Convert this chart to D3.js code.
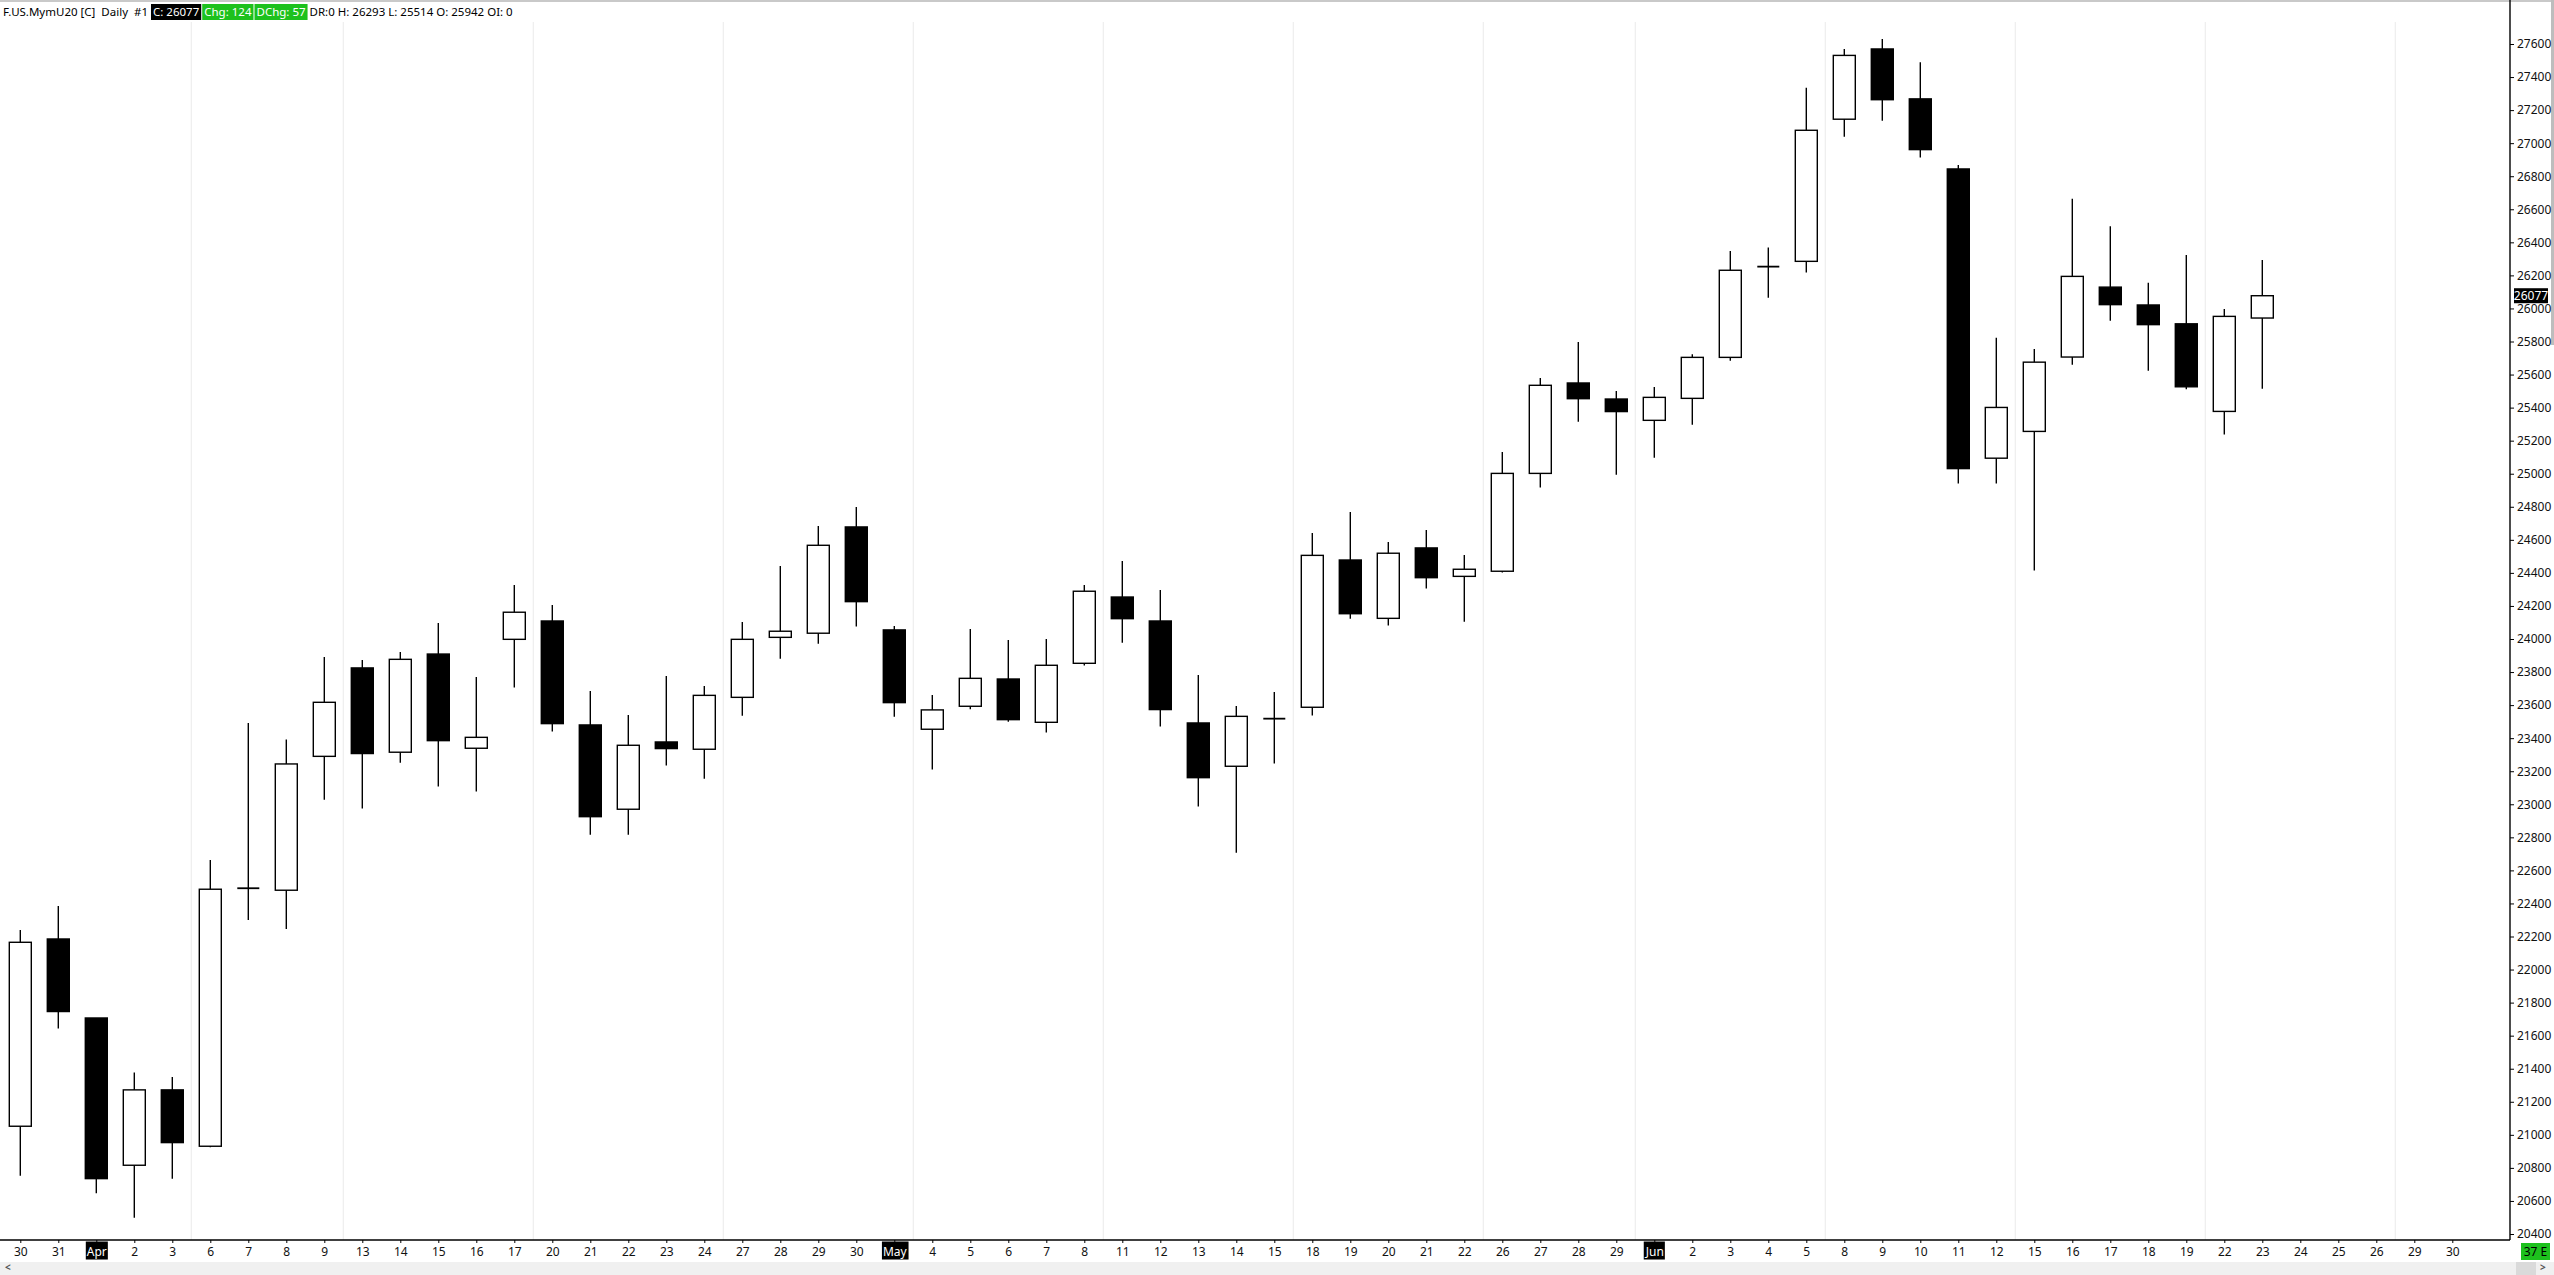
<!DOCTYPE html>
<html>
<head>
<meta charset="utf-8">
<script src="https://cdn.jsdelivr.net/npm/d3@7"></script>
<style>
  html, body { margin: 0; padding: 0; background: #fff; overflow: hidden; }
  svg { display: block; font-family: "Noto Sans", "DejaVu Sans", sans-serif; }
</style>
</head>
<body>
<div id="chart"></div>
<script>
// Axis labels (one per trading day, month starts shown as month name)
const dayLabels = ['30','31','Apr','2','3','6','7','8','9','13','14','15','16','17','20','21','22','23','24',
  '27','28','29','30','May','4','5','6','7','8','11','12','13','14','15','18','19','20','21','22','26','27',
  '28','29','Jun','2','3','4','5','8','9','10','11','12','15','16','17','18','19','22','23','24','25','26','29','30'];
const monthLabels = ['Apr', 'May', 'Jun'];
// index of the first trading day of each week (gridline drawn before it)
const weekStarts = [5, 9, 14, 19, 24, 29, 34, 39, 43, 48, 53, 58, 63];

// Daily OHLC
const opens = [21052,22185,21707,20816,21272,20931,22492,22480,23290,23825,23315,23909,23339,23998,24109,
  23480,22970,23377,23333,23647,24010,24035,24678,24055,23454,23593,23758,23496,23853,24254,24109,23492,
  23230,23518,23587,24478,24125,24551,24379,24410,25002,25549,25452,25323,25456,25704,26253,26285,27145,
  27570,27268,26844,25094,25256,25706,26129,26021,25907,25377,25942];
const highs = [22240,22385,21707,21377,21350,22663,23492,23392,23891,23873,23922,24097,23770,24327,24206,
  23686,23540,23776,23716,24103,24442,24684,24799,24079,23661,24061,23994,24000,24327,24472,24297,23782,
  23595,23680,24641,24769,24587,24660,24508,25132,25579,25797,25501,25525,25723,26348,26368,27335,27570,
  27631,27490,26868,25822,25755,26663,26498,26155,26323,25997,26293];
const lows = [20753,21643,20647,20499,20735,20925,22300,22246,23028,22974,23252,23107,23077,23706,23440,
  22816,22816,23234,23155,23536,23881,23972,24075,23530,23210,23575,23500,23434,23839,23978,23470,22986,
  22707,23246,23537,24123,24081,24305,24105,24402,24916,25315,24994,25097,25297,25684,26065,26217,27039,
  27136,26913,24941,24941,24414,25660,25926,25623,25511,25237,25514];
const closes = [22165,21746,20735,21272,20953,22486,22492,23244,23617,23307,23877,23385,23405,24162,23488,
  22925,23357,23337,23659,23998,24047,24567,24226,23615,23571,23762,23512,23841,24289,24123,23573,23161,
  23532,23518,24506,24153,24519,24371,24422,25002,25535,25454,25376,25462,25704,26231,26253,27078,27531,
  27263,26961,25031,25401,25675,26194,26023,25902,25526,25952,26077];

// Price axis ticks
const priceTicks = d3.range(20400, 27601, 200);
const lastPrice = 26077;

// Header
const headerPlain = 'F.US.MymU20 [C]  Daily  #1';
const headerBoxes = [
  { text: 'C: 26077', fill: '#000', color: '#fff' },
  { text: 'Chg: 124', fill: '#1dc11d', color: '#fff' },
  { text: 'DChg: 57', fill: '#1dc11d', color: '#fff' }
];
const headerTail = 'DR:0 H: 26293 L: 25514 O: 25942 OI: 0';

const W = 2554, H = 1275;
const axisX = 2510, axisY = 1240;

const svg = d3.select('#chart').append('svg')
  .attr('width', W).attr('height', H);

const x = d3.scalePoint()
  .domain(d3.range(dayLabels.length))
  .range([20.3, 20.3 + 38 * (dayLabels.length - 1)]);
const y = d3.scaleLinear().domain([20400, 27600]).range([1234, 44]);
const bodyW = 22;

// top border
svg.append('rect').attr('x', 0).attr('y', 0).attr('width', W).attr('height', 2).attr('fill', '#c9c9c9');
// right scroll strip
svg.append('rect').attr('x', 2551).attr('y', 0).attr('width', 3).attr('height', 345).attr('fill', '#bdbdbd');

// week gridlines
svg.append('g').selectAll('line')
  .data(weekStarts)
  .join('line')
  .attr('x1', d => x(d) - 19).attr('x2', d => x(d) - 19)
  .attr('y1', 22).attr('y2', axisY)
  .attr('stroke', '#eeeeee').attr('stroke-width', 1.2);

// candles
const candles = d3.range(opens.length).map(i => ({
  i, o: opens[i], h: highs[i], l: lows[i], c: closes[i]
}));

const g = svg.append('g');
g.selectAll('line.wick')
  .data(candles)
  .join('line')
  .attr('class', 'wick')
  .attr('x1', d => x(d.i)).attr('x2', d => x(d.i))
  .attr('y1', d => y(d.h)).attr('y2', d => y(d.l))
  .attr('stroke', '#000').attr('stroke-width', 1.4);

g.selectAll('rect.body')
  .data(candles.filter(d => d.o !== d.c))
  .join('rect')
  .attr('class', 'body')
  .attr('x', d => x(d.i) - bodyW / 2)
  .attr('width', bodyW)
  .attr('y', d => y(Math.max(d.o, d.c)))
  .attr('height', d => Math.max(1, Math.abs(y(d.o) - y(d.c))))
  .attr('fill', d => d.c > d.o ? '#fff' : '#000')
  .attr('stroke', '#000').attr('stroke-width', 1.4);

g.selectAll('line.doji')
  .data(candles.filter(d => d.o === d.c))
  .join('line')
  .attr('class', 'doji')
  .attr('x1', d => x(d.i) - bodyW / 2).attr('x2', d => x(d.i) + bodyW / 2)
  .attr('y1', d => y(d.c)).attr('y2', d => y(d.c))
  .attr('stroke', '#000').attr('stroke-width', 1.8);

// price axis
const yAxis = svg.append('g')
  .attr('transform', `translate(${axisX},0)`)
  .call(d3.axisRight(y).tickValues(priceTicks).tickSize(4).tickPadding(3).tickFormat(d3.format('d')));
yAxis.select('.domain').remove();
yAxis.selectAll('text').attr('font-size', 12).attr('fill', '#111')
  .attr('font-family', '"Noto Sans", "DejaVu Sans", sans-serif');
yAxis.selectAll('line').attr('stroke', '#000');
svg.append('line').attr('x1', axisX).attr('x2', axisX).attr('y1', 0).attr('y2', axisY)
  .attr('stroke', '#000').attr('stroke-width', 1.4);

// last price tag
svg.append('rect').attr('x', axisX + 4).attr('y', y(lastPrice) - 7.5)
  .attr('width', 34).attr('height', 15).attr('fill', '#000');
svg.append('text').attr('x', axisX + 21).attr('y', y(lastPrice))
  .attr('dy', '0.36em').attr('text-anchor', 'middle')
  .attr('font-size', 12).attr('fill', '#fff').text(lastPrice);

// date axis
const xAxis = svg.append('g')
  .attr('transform', `translate(0,${axisY})`)
  .call(d3.axisBottom(x).tickSize(3).tickPadding(4).tickFormat(i => dayLabels[i]));
xAxis.select('.domain').remove();
xAxis.selectAll('line').attr('stroke', '#000');
xAxis.selectAll('text').attr('font-size', 12).attr('fill', '#111')
  .attr('font-family', '"Noto Sans", "DejaVu Sans", sans-serif');
xAxis.selectAll('.tick').each(function (i) {
  if (monthLabels.includes(dayLabels[i])) {
    const t = d3.select(this).select('text').attr('fill', '#fff');
    const bb = t.node().getBBox();
    d3.select(this).insert('rect', 'text')
      .attr('x', bb.x - 1).attr('y', bb.y - 1)
      .attr('width', bb.width + 2).attr('height', bb.height + 1)
      .attr('fill', '#000');
  }
});
svg.append('line').attr('x1', 0).attr('x2', axisX).attr('y1', axisY).attr('y2', axisY)
  .attr('stroke', '#000').attr('stroke-width', 1.4);

// bottom scrollbar
svg.append('rect').attr('x', 0).attr('y', 1262).attr('width', W).attr('height', 13).attr('fill', '#f0f0f0');
svg.append('rect').attr('x', 2516).attr('y', 1262).attr('width', 20).attr('height', 13).attr('fill', '#dadada');
svg.append('text').attr('x', 5).attr('y', 1268).attr('dy', '0.32em').attr('font-size', 10)
  .attr('font-weight', 'bold').attr('fill', '#555').text('<');
svg.append('text').attr('x', 2540).attr('y', 1268).attr('dy', '0.32em').attr('font-size', 10)
  .attr('font-weight', 'bold').attr('fill', '#555').text('>');
svg.append('rect').attr('x', 2521).attr('y', 1243).attr('width', 29).attr('height', 17).attr('fill', '#1dc11d');
svg.append('text').attr('x', 2535.5).attr('y', 1251.5).attr('dy', '0.36em').attr('text-anchor', 'middle')
  .attr('font-size', 12).attr('fill', '#000').text('37 E');

// header line
const header = svg.append('g').attr('font-size', 11.5);
let hx = 3;
const hy = 15.5;
const t0 = header.append('text').attr('x', hx).attr('y', hy).attr('fill', '#000')
  .attr('xml:space', 'preserve').style('white-space', 'pre').text(headerPlain);
hx += t0.node().getComputedTextLength() + 3;
headerBoxes.forEach(b => {
  const r = header.append('rect').attr('y', 4).attr('height', 16).attr('fill', b.fill);
  const t = header.append('text').attr('x', hx + 2).attr('y', hy).attr('fill', b.color).text(b.text);
  const w = t.node().getComputedTextLength() + 4;
  r.attr('x', hx).attr('width', w);
  hx += w + 1;
});
header.append('text').attr('x', hx + 1).attr('y', hy).attr('fill', '#000').text(headerTail);
</script>
</body>
</html>
